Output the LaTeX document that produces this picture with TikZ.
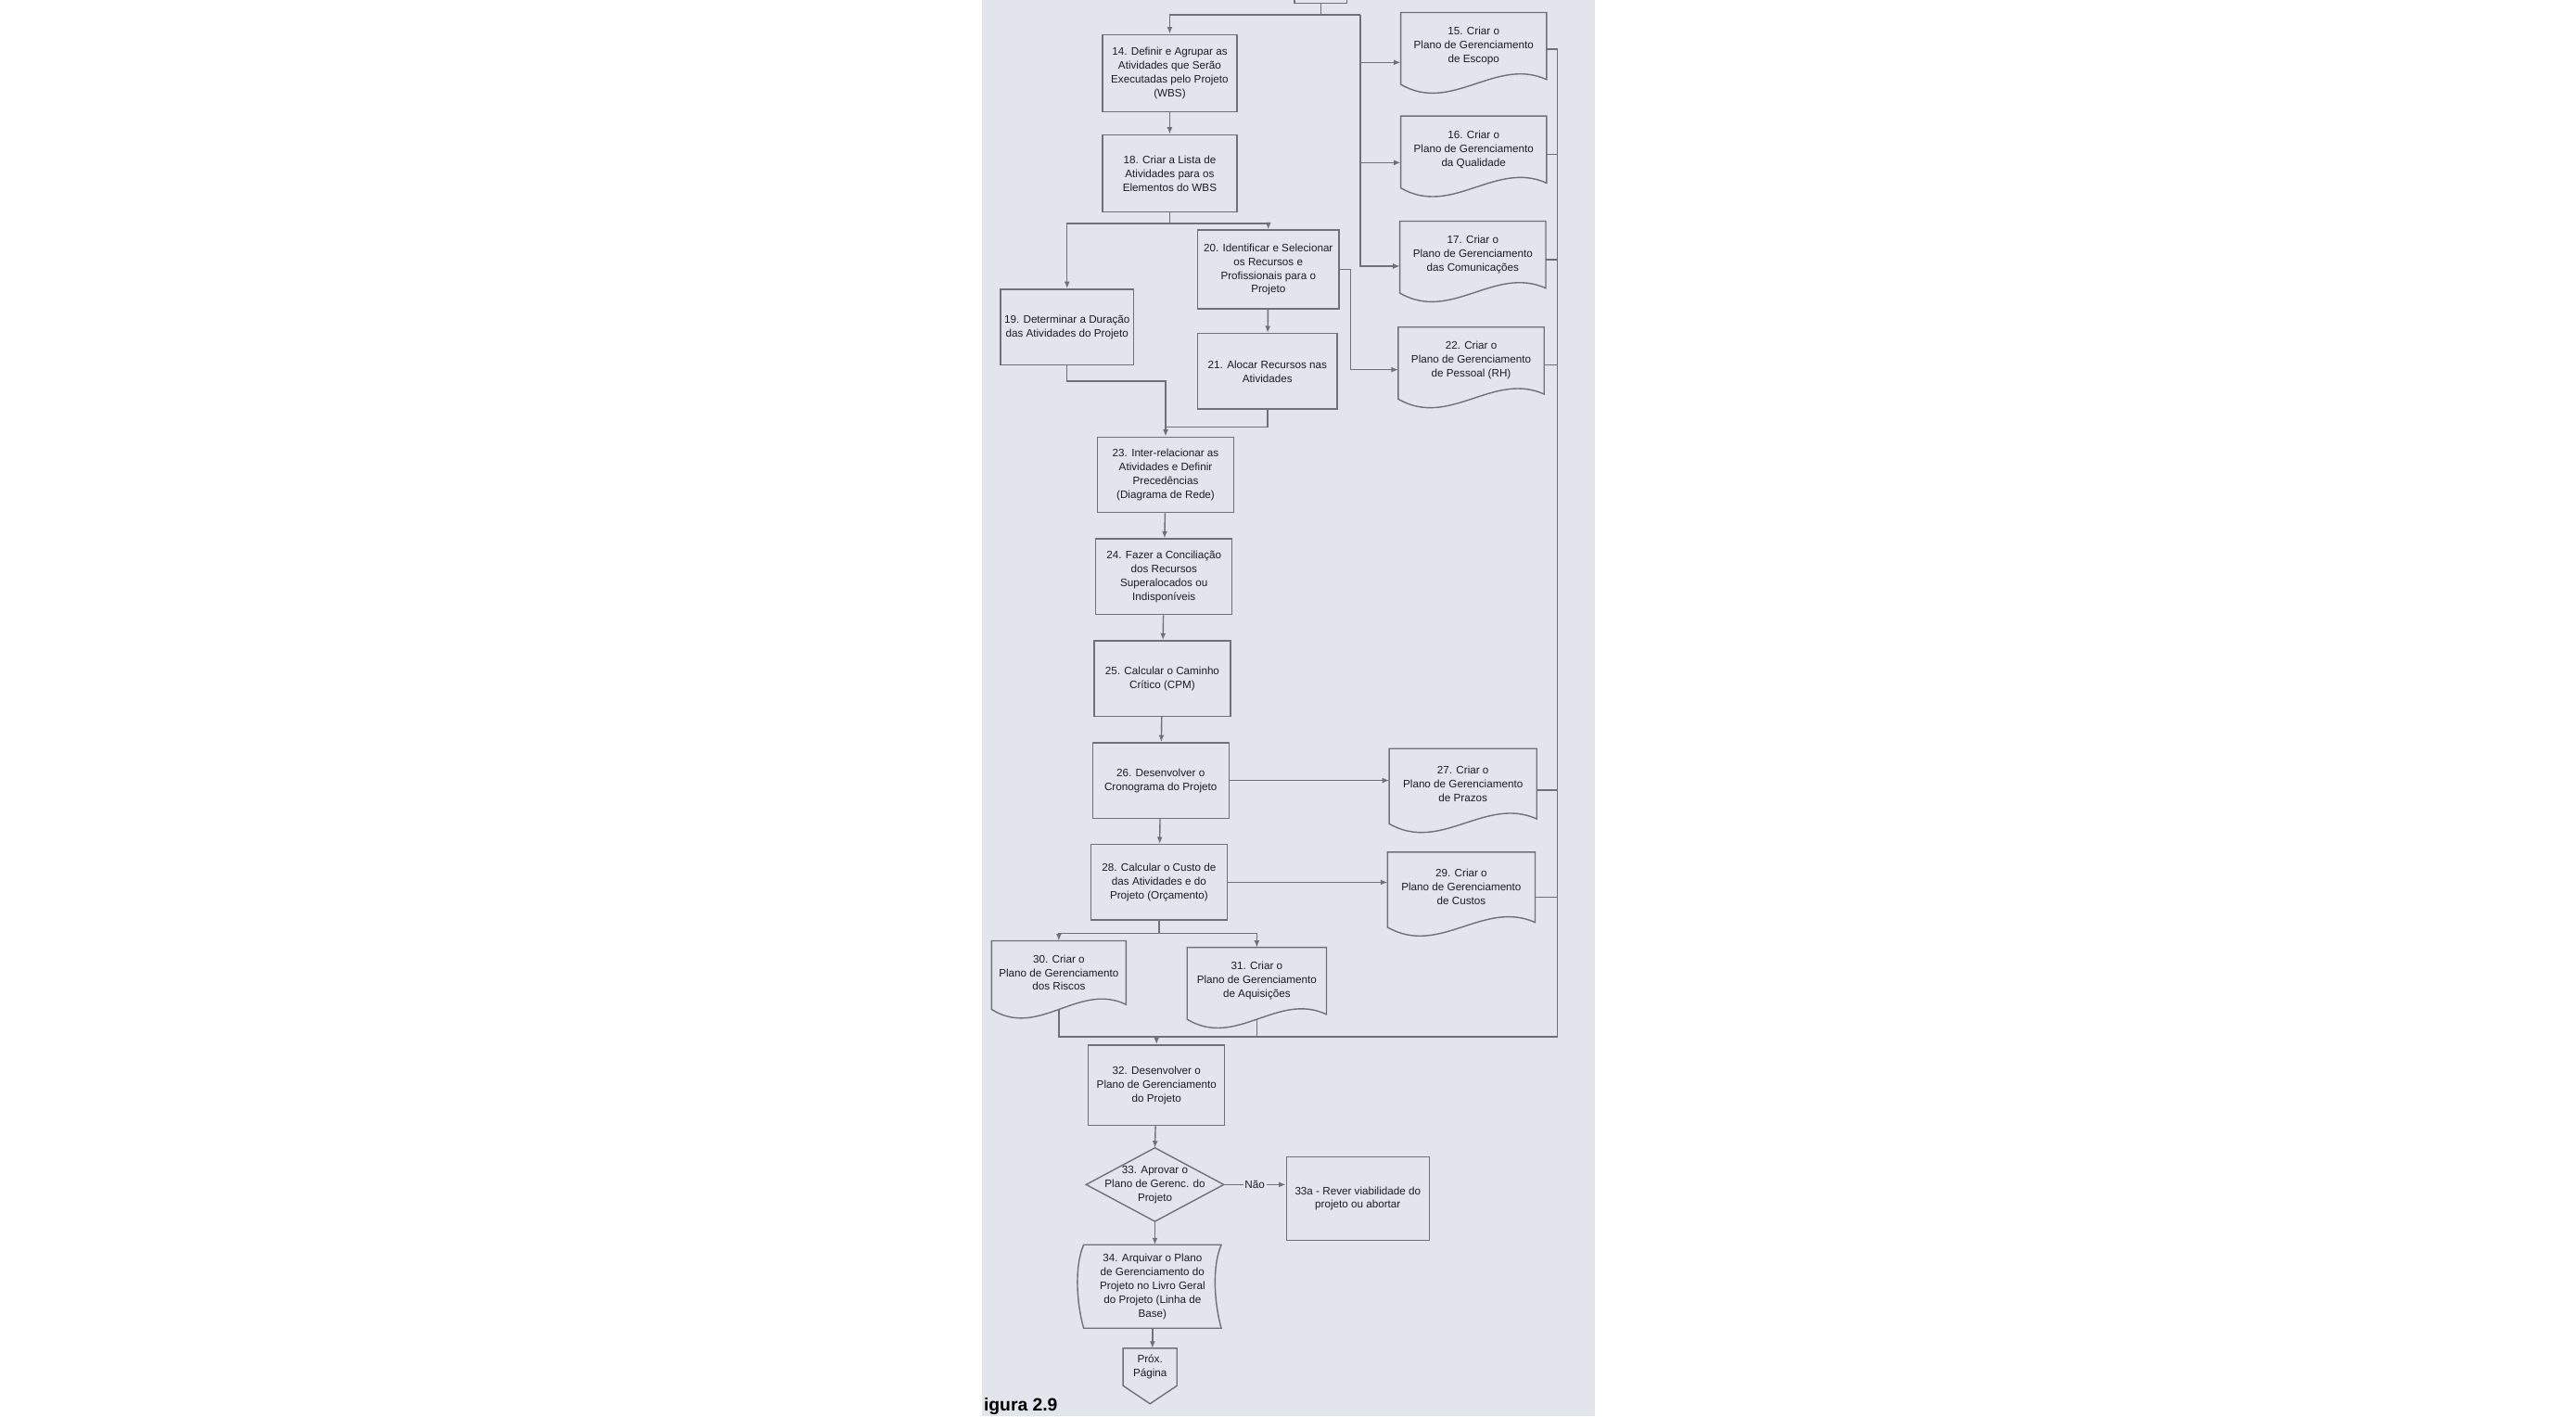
\documentclass[tikz,border=0pt]{standalone}
\usepackage{fontspec}
\setmainfont{Liberation Sans}
\usepackage{tikz}
\usetikzlibrary{positioning,arrows.meta,calc}
\definecolor{pagebg}{RGB}{226,229,236}
\definecolor{linec}{RGB}{112,112,120}
\definecolor{txtc}{RGB}{28,28,34}

\begin{document}
\begin{tikzpicture}[x=0.02cm, y=-0.02cm, line width=0.45pt, draw=linec, text=txtc,
    >={Latex[length=2.4pt,width=1.9pt]},
    box/.style={draw, rectangle, minimum width=1.66cm, minimum height=0.92cm, inner sep=0pt, align=center, font={\fontsize{3.75}{4.8}\selectfont}},
    doc/.style={box, draw=none, minimum width=1.76cm, minimum height=0.8cm},
    lbl/.style={fill=pagebg, inner sep=0.6pt, font={\fontsize{3.75}{4.8}\selectfont}}]
                % 背景
                \useasboundingbox (0,0) rectangle (1568,862);
                \fill[white] (0,0) rectangle (1568,862);
                \fill[pagebg] (598,0) rectangle (971,862);
                % 主线方框
                \node[box, minimum width=0.64cm, minimum height=0.68cm] (prev) at (804,-15) {};
                \node[box, minimum width=1.64cm, minimum height=0.94cm] (b14) at (712,44.5) {14. Definir e Agrupar as\\Atividades que Serão\\Executadas pelo Projeto\\(WBS)};
                \node[box, minimum width=1.64cm, minimum height=0.94cm] (b18) at (712,105.5) {18. Criar a Lista de\\Atividades para os\\Elementos do WBS};
                \node[box, minimum width=1.62cm] (b19) at (649.5,199) {19. Determinar a Duração\\das Atividades do Projeto};
                \node[box, minimum width=1.72cm, minimum height=0.96cm] (b20) at (772,164) {20. Identificar e Selecionar\\os Recursos e\\Profissionais para o\\Projeto};
                \node[box, minimum width=1.70cm] (b21) at (771.5,226) {21. Alocar Recursos nas\\Atividades};
                \node[box] (b23) at (709.5,289) {23. Inter-relacionar as\\Atividades e Definir\\Precedências\\(Diagrama de Rede)};
                \node[box] (b24) at (708.5,351) {24. Fazer a Conciliação\\dos Recursos\\Superalocados ou\\Indisponíveis};
                \node[box] (b25) at (707.5,413) {25. Calcular o Caminho\\Crítico (CPM)};
                \node[box] (b26) at (706.5,475) {26. Desenvolver o\\Cronograma do Projeto};
                \node[box] (b28) at (705.5,537) {28. Calcular o Custo de\\das Atividades e do\\Projeto (Orçamento)};
                \node[box, minimum height=0.98cm] (b32) at (704,660.5) {32. Desenvolver o\\Plano de Gerenciamento\\do Projeto};
                \node[box, draw=none, minimum height=0.88cm] (d33) at (703,721) {33. Aprovar o\\Plano de Gerenc. do\\Projeto};
                \node[box, minimum width=1.74cm, minimum height=1.02cm] (b33a) at (826.5,729.5) {33a - Rever viabilidade do\\projeto ou abortar};
                \node[box, draw=none, minimum height=1cm] (s34) at (701.5,783) {34. Arquivar o Plano\\de Gerenciamento do\\Projeto no Livro Geral\\do Projeto (Linha de\\Base)};
                \node[box, draw=none, minimum width=0.64cm, minimum height=0.44cm] (pg) at (700,832) {Próx.\\Página};
                % 文档
                \node[doc] (d15) at (897,28) {15. Criar o\\Plano de Gerenciamento\\de Escopo};
                \node[doc] (d16) at (897,91) {16. Criar o\\Plano de Gerenciamento\\da Qualidade};
                \node[doc] (d17) at (896.5,155) {17. Criar o\\Plano de Gerenciamento\\das Comunicações};
                \node[doc] (d22) at (895.5,219.5) {22. Criar o\\Plano de Gerenciamento\\de Pessoal (RH)};
                \node[doc, minimum width=1.78cm, minimum height=0.84cm] (d27) at (890.5,477) {27. Criar o\\Plano de Gerenciamento\\de Prazos};
                \node[doc, minimum width=1.78cm, minimum height=0.84cm] (d29) at (889.5,540) {29. Criar o\\Plano de Gerenciamento\\de Custos};
                \node[doc, minimum width=1.62cm, minimum height=0.76cm] (d30) at (644.5,592) {30. Criar o\\Plano de Gerenciamento\\dos Riscos};
                \node[doc, minimum width=1.68cm] (d31) at (765,597) {31. Criar o\\Plano de Gerenciamento\\de Aquisições};
                \foreach \dn in {d15,d16,d17,d22,d27,d29,d30,d31}{
                    \coordinate (\dn-b) at ($(\dn.south)+(0,3)$);
                    \draw ($(\dn.south west)+(0,3)$) -- (\dn.north west) -- (\dn.north east) -- (\dn.south east)
                        .. controls ($(\dn.south east)!0.35!(\dn.south west)+(0,-14)$) and ($(\dn.south east)!0.65!(\dn.south west)+(0,21)$) .. ($(\dn.south west)+(0,3)$) -- cycle;
                }
                % 其他形状
                \draw (d33.north) -- (d33.east) -- (d33.south) -- (d33.west) -- cycle;
                \draw (s34.north west) .. controls ($(s34.north west)+(-6,14)$) and ($(s34.south west)+(-4,-14)$) .. (s34.south west)
                    -- (s34.south east) .. controls ($(s34.south east)+(-4,-14)$) and ($(s34.north east)+(-6,14)$) .. (s34.north east) -- cycle;
                \draw (pg.north west) -- (pg.north east) -- (pg.south east) -- ($(pg.south)+(0,11)$) -- (pg.south west) -- cycle;
                % 左侧汇线
                \coordinate (top) at (804,9);
                \coordinate (busL) at (828,9);
                \coordinate (l15) at (828,38);
                \coordinate (l16) at (828,99);
                \coordinate (l17) at (828,162);
                \draw (prev) -- (top);
                \draw[->] (busL) -- (b14.north |- busL) -- (b14.north);
                \draw[->] (busL) -- (l17) -- (l17 -| d17.west);
                \draw[->] (l15) -- (l15 -| d15.west);
                \draw[->] (l16) -- (l16 -| d16.west);
                % 流程
                \draw[->] (b14) -- (b18);
                \coordinate (s18) at (712,136);
                \draw (b18) -- (s18);
                \draw[->] (s18) -| (b19.north);
                \draw[->] (s18) -| (b20.north);
                \draw[->] (b20) -- (b21);
                \coordinate (j22) at (822,225);
                \draw[->] (b20.east) -| (j22) -- (j22 -| d22.west);
                \coordinate (m23) at (709.5,232);
                \coordinate (n23) at (709.5,260);
                \draw[->] (b19.south) |- (m23) -- (b23.north);
                \draw (b21.south) |- (n23);
                \draw[->] (b23) -- (b24);
                \draw[->] (b24) -- (b25);
                \draw[->] (b25) -- (b26);
                \draw[->] (b26) -- (b28);
                \draw[->] (b26.east) -- (b26.east -| d27.west);
                \draw[->] (b28.east) -- (b28.east -| d29.west);
                \coordinate (s28) at (705.5,568);
                \draw (b28) -- (s28);
                \draw[->] (s28) -| (d30.north);
                \draw[->] (s28) -| (d31.north);
                % 右侧汇线
                \coordinate (r15) at (948,30);
                \coordinate (r16) at (948,94);
                \coordinate (r17) at (948,158);
                \coordinate (r22) at (948,222);
                \coordinate (r27) at (948,481);
                \coordinate (r29) at (948,546);
                \coordinate (rb) at (948,631);
                \draw (r15 -| d15.east) -- (r15) -- (rb);
                \draw (r16 -| d16.east) -- (r16);
                \draw (r17 -| d17.east) -- (r17);
                \draw (r22 -| d22.east) -- (r22);
                \draw (r27 -| d27.east) -- (r27);
                \draw (r29 -| d29.east) -- (r29);
                \draw (d30-b) |- (rb);
                \draw (d31-b) -- (d31-b |- rb);
                \draw[->] (rb -| b32.north) -- (b32.north);
                % 审批
                \draw[->] (b32) -- (d33.north);
                \draw[->] (d33.east) -- (d33.east -| b33a.west) node[lbl, midway] {Não};
                \draw[->] (d33.south) -- (d33.south |- s34.north);
                \draw[->] (s34.south) -- (s34.south |- pg.north);
                % 图题
                \node[anchor=base west, inner sep=0pt, text=black, font={\bfseries\fontsize{6.2}{7}\selectfont}] (cap) at (598.5,859) {igura 2.9};
            \end{tikzpicture}
\end{document}
